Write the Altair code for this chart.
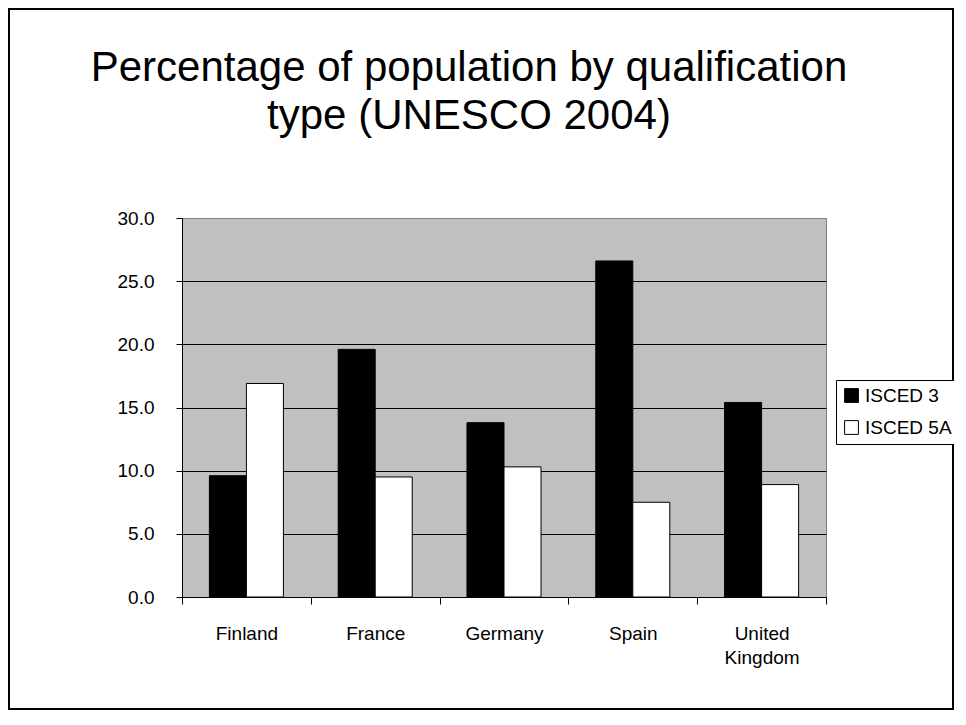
import altair as alt
import pandas as pd

countries = ["Finland", "France", "Germany", "Spain", "United Kingdom"]
isced3 = [9.6, 19.6, 13.8, 26.6, 15.4]
isced5a = [16.9, 9.5, 10.3, 7.5, 8.9]
series = ["ISCED 3", "ISCED 5A"]
y_ticks = [0, 5, 10, 15, 20, 25, 30]

rows = []
for c, a, b in zip(countries, isced3, isced5a):
    rows.append({"country": c, "series": series[0], "value": a})
    rows.append({"country": c, "series": series[1], "value": b})
df = pd.DataFrame(rows)

FONT = "Liberation Sans, Arial, sans-serif"
W, H = 644, 379

bars = alt.Chart(df).mark_bar(stroke="black", strokeWidth=1).encode(
    x=alt.X(
        "country:N",
        sort=countries,
        scale=alt.Scale(paddingInner=0, paddingOuter=0),
        axis=alt.Axis(
            title=None,
            labelAngle=0,
            labelFont=FONT,
            labelFontSize=19,
            labelColor="black",
            labelPadding=20,
            labelLineHeight=24,
            labelExpr="datum.label == 'United Kingdom' ? ['United', 'Kingdom'] : datum.label",
            tickBand="extent",
            tickSize=7,
            tickColor="black",
            domainColor="black",
            grid=False,
        ),
    ),
    xOffset=alt.XOffset(
        "series:N",
        sort=series,
        scale=alt.Scale(paddingInner=0, paddingOuter=0.74),
    ),
    y=alt.Y(
        "value:Q",
        scale=alt.Scale(domain=[0, 30], nice=False),
        axis=alt.Axis(
            title=None,
            values=y_ticks,
            format=".1f",
            labelFont=FONT,
            labelFontSize=19,
            labelColor="black",
            labelPadding=22,
            tickSize=6,
            tickColor="black",
            domainColor="black",
            grid=True,
            gridColor={"condition": {"test": "datum.value === 30", "value": "#808080"}, "value": "black"},
            gridWidth=1,
        ),
    ),
    color=alt.Color(
        "series:N",
        sort=series,
        scale=alt.Scale(domain=series, range=["black", "white"]),
        legend=alt.Legend(
            title=None,
            orient="none",
            legendX=654,
            legendY=162,
            strokeColor="black",
            fillColor="white",
            padding=6,
            symbolType="square",
            symbolSize=190,
            symbolStrokeColor="black",
            symbolStrokeWidth=1,
            labelFont=FONT,
            labelFontSize=19,
            labelColor="black",
            labelOffset=4,
            rowPadding=12,
        ),
    ),
)

frame = alt.Chart(pd.DataFrame({"a": [0]})).mark_rect(
    fill="transparent", stroke="black", strokeWidth=2
).encode(
    x=alt.value(-173), x2=alt.value(771), y=alt.value(-209), y2=alt.value(491)
)

chart = alt.layer(bars, frame).properties(
    width=W,
    height=H,
    autosize=alt.AutoSizeParams(type="none"),
    padding={"left": 174, "top": 210, "right": 128, "bottom": 114},
    title=alt.TitleParams(
        text=["Percentage of population by qualification", "type (UNESCO 2004)"],
        font=FONT,
        fontSize=42,
        fontWeight="normal",
        color="black",
        lineHeight=48,
        anchor="middle",
        baseline="alphabetic",
        offset=-163,
        dx=-35,
    ),
).configure_view(
    fill="#C0C0C0", stroke="#808080", strokeWidth=1
)

chart.save("out.html", embed_options={"renderer": "svg", "actions": False})
